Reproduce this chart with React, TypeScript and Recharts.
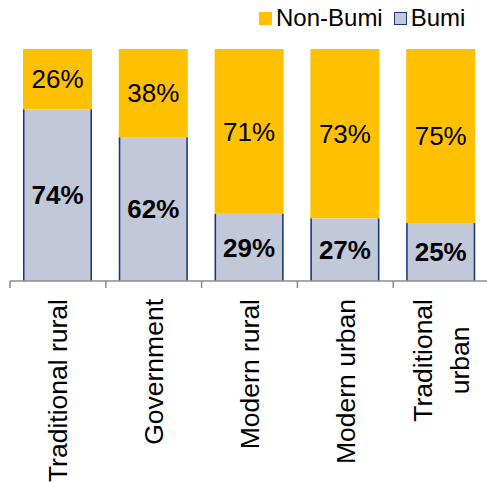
import React from "react";
import {
  BarChart,
  Bar,
  XAxis,
  YAxis,
  LabelList,
} from "recharts";

const categories = [
  "Traditional rural",
  "Government",
  "Modern rural",
  "Modern urban",
  "Traditional\nurban",
];
const bumi = [74, 62, 29, 27, 25];
const nonBumi = [26, 38, 71, 73, 75];

const FONT = "'Liberation Sans', Arial, sans-serif";
const YELLOW = "#FFC000";
const BUMI_FILL = "#C0C8D9";
const NAVY = "#1A3478";
const AXIS = "#8C8C8C";

const W = 489;
const H = 483;
const LEFT = 10;
const BAND = (W - LEFT) / categories.length;

const data = categories.map((c, i) => ({
  name: c,
  bumi: bumi[i],
  nonBumi: nonBumi[i],
}));

let ctx: CanvasRenderingContext2D | null = null;
function textWidth(s: string, size: number) {
  if (!ctx) ctx = document.createElement("canvas").getContext("2d");
  if (!ctx) return s.length * size * 0.5;
  ctx.font = `${size}px 'Liberation Sans', Arial, sans-serif`;
  return ctx.measureText(s).width;
}

// vertical labels, anchored at the top like Excel, multi-line centred in block
function CategoryTick(props: any) {
  const { x, y, payload } = props;
  const lines = String(payload.value).split("\n");
  const size = 26.5;
  const top = y + 18;
  const block = Math.max(...lines.map((l) => textWidth(l, size)));
  const lineH = 37;
  const first = x - ((lines.length - 1) * lineH) / 2;
  return (
    <g>
      <line x1={x - BAND / 2} x2={x - BAND / 2} y1={y} y2={y + 7} stroke={AXIS} strokeWidth={1.5} />
      {lines.map((l, i) => (
        <text
          key={i}
          transform={`translate(${first + i * lineH + size * 0.36}, ${top + block / 2}) rotate(-90)`}
          textAnchor="middle"
          fontSize={size}
          fontFamily={FONT}
          fill="#000"
        >
          {l}
        </text>
      ))}
    </g>
  );
}

function BumiShape(props: any) {
  const { x, y, width, height } = props;
  if (!height) return null;
  return (
    <g>
      <rect x={x} y={y} width={width} height={height} fill={BUMI_FILL} />
      <line x1={x + 0.75} x2={x + 0.75} y1={y} y2={y + height} stroke={NAVY} strokeWidth={1.5} />
      <line x1={x + width - 0.75} x2={x + width - 0.75} y1={y} y2={y + height} stroke={NAVY} strokeWidth={1.5} />
    </g>
  );
}

function LegendBox() {
  const item = (label: string, fill: string, border?: string) => (
    <div style={{ display: "flex", alignItems: "center", marginRight: 11 }}>
      <div
        style={{
          width: 13,
          height: 13,
          boxSizing: "border-box",
          background: fill,
          border: border ? `1.5px solid ${border}` : "none",
          marginRight: 4,
        }}
      />
      <span style={{ fontSize: 24, fontFamily: FONT, color: "#000" }}>{label}</span>
    </div>
  );
  return (
    <div
      style={{
        position: "absolute",
        left: 259,
        top: 4,
        display: "flex",
        alignItems: "center",
        lineHeight: "28px",
      }}
    >
      {item("Non-Bumi", YELLOW)}
      {item("Bumi", BUMI_FILL, NAVY)}
    </div>
  );
}

export default function App() {
  return (
    <div style={{ position: "absolute", left: 0, top: 0, width: 487, height: H, overflow: "hidden", background: "#fff" }}>
      <BarChart
        width={W}
        height={H}
        data={data}
        margin={{ top: 49, right: 0, bottom: 0, left: LEFT }}
        barSize={69}
      >
        <XAxis
          dataKey="name"
          interval={0}
          height={202}
          tickSize={0}
          tickMargin={0}
          tickLine={false}
          axisLine={{ stroke: AXIS, strokeWidth: 1.5 }}
          tick={<CategoryTick />}
        />
        <YAxis hide domain={[0, 100]} />
        <Bar dataKey="bumi" name="Bumi" stackId="a" shape={<BumiShape />} isAnimationActive={false}>
          <LabelList
            dataKey="bumi"
            position="center"
            formatter={(v: any) => `${v}%`}
            style={{ fontSize: 26, fontWeight: "bold", fontFamily: FONT, fill: "#000" }}
          />
        </Bar>
        <Bar dataKey="nonBumi" name="Non-Bumi" stackId="a" fill={YELLOW} isAnimationActive={false}>
          <LabelList
            dataKey="nonBumi"
            position="center"
            formatter={(v: any) => `${v}%`}
            style={{ fontSize: 26, fontFamily: FONT, fill: "#000" }}
          />
        </Bar>
      </BarChart>
      <LegendBox />
    </div>
  );
}
